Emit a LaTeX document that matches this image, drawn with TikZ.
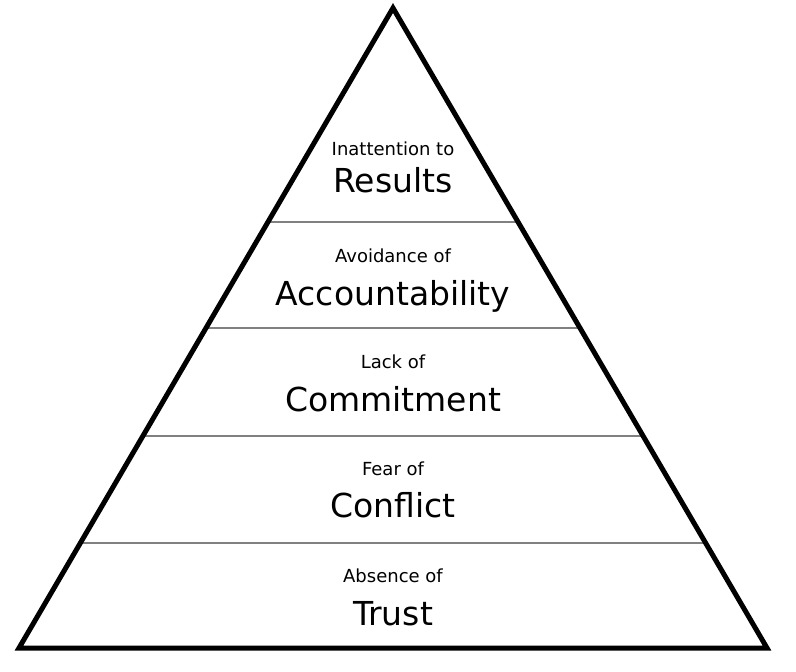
\documentclass[tikz,border=0pt]{standalone}
\usepackage{fontspec}
\setmainfont{DejaVu Sans}
\usetikzlibrary{calc}
\definecolor{dividergray}{gray}{0.5}
\tikzset{
    pyramid diagram/.style = {x=1pt, y=-1pt},
    outline/.style         = {line width=5pt, line join=miter},
    divider/.style         = {line width=2.7pt, draw=dividergray},
    cue/.style             = {anchor=base, inner sep=0pt,
                              font=\fontsize{18}{20}\selectfont},
    tier/.style            = {anchor=base, inner sep=0pt,
                              font=\fontsize{33}{36}\selectfont}
}

\begin{document}
\begin{tikzpicture}[pyramid diagram]
\useasboundingbox (0,0) rectangle (796,672);

% ================= Corners =================
\coordinate (apex) at (393,   8);
\coordinate (bl)   at ( 19, 648);
\coordinate (br)   at (767, 648);

% ================= Tier dividers =================
\foreach \y [count=\i] in {222, 328, 436, 543} {
    \coordinate (l\i) at ($(apex)!{(\y-8)/640}!(bl)$);
    \coordinate (r\i) at ($(apex)!{(\y-8)/640}!(br)$);
    \draw[divider] (l\i) -- (r\i);
}

% ================= Outline =================
\draw[outline] (apex) -- (bl) -- (br) -- cycle;

% ================= Labels (top to bottom) =================
\node[cue]  (cue5)  at (393, 155) {Inattention to};
\node[tier] (tier5) at (393, 192) {Results};

\node[cue]  (cue4)  at (393, 262) {Avoidance of};
\node[tier] (tier4) at (393, 305) {Accountability};

\node[cue]  (cue3)  at (393, 368) {Lack of};
\node[tier] (tier3) at (393, 411) {Commitment};

\node[cue]  (cue2)  at (393, 475) {Fear of};
\node[tier] (tier2) at (393, 517) {Conflict};

\node[cue]  (cue1)  at (393, 582) {Absence of};
\node[tier] (tier1) at (393, 625) {Trust};

\end{tikzpicture}
\end{document}
